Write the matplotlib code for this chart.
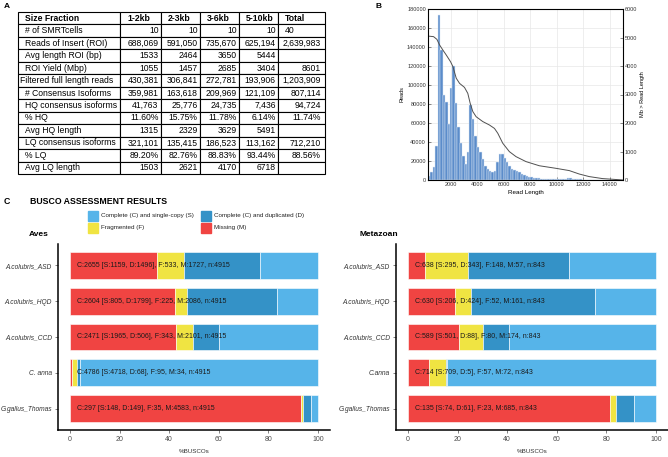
import matplotlib
matplotlib.use('Agg')
import matplotlib.pyplot as plt
import numpy as np

plt.rcParams['font.family'] = ['Liberation Sans', 'DejaVu Sans']

W, H = 668, 457

# ---------------- Panel A: table ----------------
col_labels = ['Size Fraction', '1-2kb', '2-3kb', '3-6kb', '5-10kb', 'Total']
table_rows = [
    ['# of SMRTcells', '10', '10', '10', '10', '40'],
    ['Reads of Insert (ROI)', '688,069', '591,050', '735,670', '625,194', '2,639,983'],
    ['Avg length ROI (bp)', '1533', '2464', '3650', '5444', ''],
    ['ROI Yield (Mbp)', '1055', '1457', '2685', '3404', '8601'],
    ['Filtered full length reads', '430,381', '306,841', '272,781', '193,906', '1,203,909'],
    ['# Consensus Isoforms', '359,981', '163,618', '209,969', '121,109', '807,114'],
    ['HQ consensus isoforms', '41,763', '25,776', '24,735', '7,436', '94,724'],
    ['% HQ', '11.60%', '15.75%', '11.78%', '6.14%', '11.74%'],
    ['Avg HQ length', '1315', '2329', '3629', '5491', ''],
    ['LQ consensus isoforms', '321,101', '135,415', '186,523', '113,162', '712,210'],
    ['% LQ', '89.20%', '82.76%', '88.83%', '93.44%', '88.56%'],
    ['Avg LQ length', '1503', '2621', '4170', '6718', ''],
]

# ---------------- Panel B: read length histogram ----------------
hist_start, hist_stop, n_bins = 300, 15000, 80
read_counts = [4500, 8000, 13500, 36000, 174000, 137000, 89000, 82000, 59000, 97000,
               120000, 81000, 56000, 39000, 25000, 17000, 30000, 79000, 64000, 46000,
               35000, 30000, 22000, 15000, 12000, 9000, 8000, 9000, 19000, 27000,
               27000, 23000, 19000, 15000, 12000, 10500, 9500, 8000, 6700, 5300,
               4500, 3500, 2800, 2500, 2100, 1800, 1500, 1300, 1100, 1000,
               900, 900, 800, 900, 1000, 1200, 1500, 1800, 1600, 1300,
               1000, 800, 600, 500, 400, 400, 300, 300, 250, 200,
               200, 150, 150, 120, 100, 100, 80, 80, 60, 50]
mb_x = [300, 720, 970, 1170, 1420, 1670, 2000, 2175, 2430, 2680, 3050, 3300, 3480,
        3680, 3930, 4430, 4930, 5310, 5560, 5935, 6435, 6935, 7690, 8690, 9945,
        10950, 11700, 12450, 13450, 14700, 15000]
mb_y = [5050, 5030, 4935, 4740, 4560, 4390, 4150, 3980, 3570, 3390, 3250, 3040, 2690,
        2400, 2220, 2050, 1930, 1810, 1640, 1290, 995, 820, 645, 500, 410,
        330, 210, 120, 50, 10, 0]

# ---------------- Panel C: BUSCO ----------------
aves_labels = ['A.colubris_ASD', 'A.colubris_HQD', 'A.colubris_CCD', 'C. anna', 'G.gallus_Thomas']
aves_S = [1159, 805, 1965, 4718, 148]
aves_D = [1496, 1799, 506, 68, 149]
aves_F = [533, 225, 343, 95, 35]
aves_M = [1727, 2086, 2101, 34, 4583]
aves_n = 4915

meta_labels = ['A.colubris_ASD', 'A.colubris_HQD', 'A.colubris_CCD', 'C.anna', 'G.gallus_Thomas']
meta_S = [295, 206, 501, 709, 74]
meta_D = [343, 424, 88, 5, 61]
meta_F = [148, 52, 80, 57, 23]
meta_M = [57, 161, 174, 72, 685]
meta_n = 843

c_S, c_D, c_F, c_M = '#56B4E9', '#3492C7', '#F0E442', '#F04442'


def px_axes(fig, x0, y0, x1, y1):
    return fig.add_axes([x0 / W, 1 - y1 / H, (x1 - x0) / W, (y1 - y0) / H])


fig = plt.figure(figsize=(W / 100, H / 100), dpi=100)

# ---- A
fig.text(4 / W, 1 - 6 / H, 'A', fontsize=6, fontweight='bold', va='center')
ax_t = px_axes(fig, 18, 12, 325, 174)
ax_t.axis('off')
col_w = np.array([102, 41, 39, 39, 39, 47], dtype=float)
tbl = ax_t.table(cellText=[col_labels] + table_rows, colWidths=list(col_w / col_w.sum()),
                 bbox=[0, 0, 1, 1], cellLoc='right')
tbl.auto_set_font_size(False)
tbl.set_fontsize(6.2)
for (r, c), cell in tbl.get_celld().items():
    cell.set_linewidth(0.8)
    cell.PAD = 0.06
    if c == 5:
        cell.PAD = 0.09
        if r == 1:
            cell.PAD = 0.14
    if c == 0:
        cell.PAD = 0.07
        if r == 5:
            cell.PAD = 0.02
    if r == 0:
        cell.PAD = 7 / col_w[c]
        cell.get_text().set_fontweight('bold')
    if c == 0 or r == 0 or (r == 1 and c == 5):
        cell.get_text().set_horizontalalignment('left')

# ---- B
fig.text(376 / W, 1 - 6 / H, 'B', fontsize=6, fontweight='bold', va='center')
axb = px_axes(fig, 428, 9, 623, 180)
edges = np.linspace(hist_start, hist_stop, n_bins + 1)
axb.bar(edges[:-1], read_counts, width=edges[1] - edges[0], align='edge',
        color='#5b8cca', edgecolor='#dde8f5', linewidth=0.35, zorder=2)
axb.set_xlim(hist_start, hist_stop)
axb.set_ylim(0, 180000)
axb.set_yticks(np.arange(0, 180001, 20000))
axb.set_xticks(np.arange(2000, 14001, 2000))
axb.grid(True, color='#e8e8e8', linewidth=0.5, zorder=0)
axb.set_axisbelow(True)
axb.tick_params(labelsize=4, length=2, width=0.4, direction='in', colors='#333333', pad=1.5)
axb.set_ylabel('Reads', fontsize=4, labelpad=2)
axb.set_xlabel('Read Length', fontsize=4.5, labelpad=2)
for s in axb.spines.values():
    s.set_linewidth(0.6)
axr = axb.twinx()
axr.plot(mb_x, mb_y, color='#505050', linewidth=0.7)
axr.set_ylim(0, 6000)
axr.set_yticks(np.arange(0, 6001, 1000))
axr.tick_params(labelsize=4, length=2, width=0.4, direction='in', colors='#333333', pad=1.5)
axr.set_ylabel('Mb > Read Length', fontsize=4, labelpad=2)

# ---- C
fig.text(4 / W, 1 - 201 / H, 'C', fontsize=6.3, fontweight='bold', va='center')
fig.text(30 / W, 1 - 201 / H, 'BUSCO ASSESSMENT RESULTS', fontsize=6.3,
         fontweight='bold', va='center')

legend_items = [(c_S, 'Complete (C) and single-copy (S)', 88, 216),
                (c_D, 'Complete (C) and duplicated (D)', 201, 216),
                (c_F, 'Fragmented (F)', 88, 228),
                (c_M, 'Missing (M)', 201, 228)]
for col, lab, lx, ly in legend_items:
    fig.patches.append(plt.Rectangle((lx / W, 1 - (ly + 5) / H), 10 / W, 10 / H,
                                     transform=fig.transFigure, color=col))
    fig.text((lx + 13) / W, 1 - ly / H, lab, fontsize=4.5, va='center', color='#222222')


def busco_panel(x0, x1, labels, S, D, F, M, n, title, tx):
    ax = px_axes(fig, x0, 244, x1, 430)
    y = np.arange(len(labels))
    pct = lambda v: np.array(v) / n * 100
    left = np.zeros(len(labels))
    for vals, col in [(M, c_M), (F, c_F), (D, c_D), (S, c_S)]:
        w = pct(vals)
        ax.barh(y, w, left=left, height=0.75, color=col, edgecolor='white', linewidth=0.4)
        left += w
    for i in range(len(labels)):
        txt = 'C:%d [S:%d, D:%d], F:%d, M:%d, n:%d' % (S[i] + D[i], S[i], D[i], F[i], M[i], n)
        ax.text(3, y[i], txt, fontsize=5, va='center', ha='left', color='#1a1a1a')
    ax.set_xlim(-5, 105)
    ax.set_ylim(len(labels) - 0.4, -0.6)
    ax.set_yticks(y)
    ax.set_yticklabels(labels, fontstyle='italic', fontsize=4.8, color='#333333')
    ax.set_xticks(np.arange(0, 101, 20))
    ax.tick_params(axis='x', labelsize=5, colors='#4d4d4d', length=2.5, width=0.5, pad=2)
    ax.tick_params(axis='y', length=2.5, width=0.5, colors='#4d4d4d', pad=1.5)
    for lab in ax.get_yticklabels():
        lab.set_color('#333333')
    ax.set_xlabel('%BUSCOs', fontsize=4.5, color='#333333', labelpad=4)
    for s in ['top', 'right']:
        ax.spines[s].set_visible(False)
    for s in ['left', 'bottom']:
        ax.spines[s].set_linewidth(1.1)
    fig.text(tx / W, 1 - 235 / H, title, fontsize=6, fontweight='bold', va='center', ha='center')
    return ax


busco_panel(57.6, 330.4, aves_labels, aves_S, aves_D, aves_F, aves_M, aves_n, 'Aves', 39)
busco_panel(395.6, 668.4, meta_labels, meta_S, meta_D, meta_F, meta_M, meta_n, 'Metazoan', 379)

fig.savefig('out.png', dpi=100)
